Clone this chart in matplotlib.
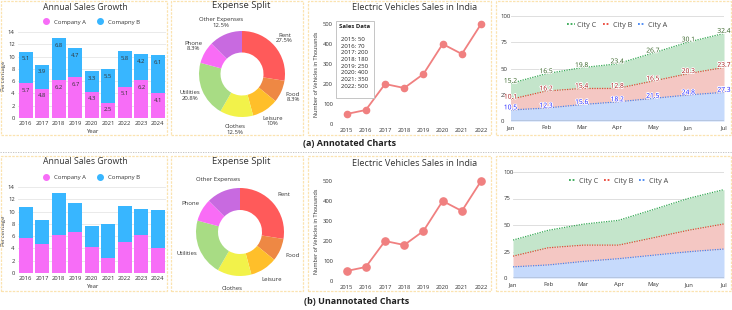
import matplotlib
matplotlib.use("Agg")
import matplotlib.pyplot as plt
from matplotlib.patches import Rectangle
from matplotlib.lines import Line2D
import matplotlib.patheffects as pe
import numpy as np

plt.rcParams['font.family'] = ['Open Sans', 'DejaVu Sans']

# ---------------- data ----------------
years_bar = ['2016', '2017', '2018', '2019', '2020', '2021', '2022', '2023', '2024']
company_a = [5.7, 4.8, 6.2, 6.7, 4.3, 2.5, 5.1, 6.2, 4.1]
company_b = [5.1, 3.9, 6.8, 4.7, 3.3, 5.5, 5.8, 4.2, 6.1]
bar_yticks = [0, 2, 4, 6, 8, 10, 12, 14]

expense_labels = ['Rent', 'Food', 'Leisure', 'Clothes', 'Utilities', 'Phone', 'Other Expenses']
expense_values = [27.5, 8.3, 10, 12.5, 20.8, 8.3, 12.5]
expense_pct = ['27.5%', '8.3%', '10%', '12.5%', '20.8%', '8.3%', '12.5%']
expense_colors = ['#ff5a5a', '#ee8844', '#ffbf2a', '#f2f24a', '#a8dc84', '#f96cf6', '#c86ae0']

ev_years = [2015, 2016, 2017, 2018, 2019, 2020, 2021, 2022]
ev_sales = [50, 70, 200, 180, 250, 400, 350, 500]
ev_yticks = [0, 100, 200, 300, 400, 500]

months = ['Jan', 'Feb', 'Mar', 'Apr', 'May', 'Jun', 'Jul']
city_a = [10.5, 12.3, 15.6, 18.2, 21.5, 24.8, 27.3]
city_b = [10.1, 16.2, 15.4, 12.8, 16.5, 20.3, 23.7]
city_c = [15.2, 16.5, 19.8, 23.4, 26.7, 30.1, 32.4]
area_yticks = [0, 25, 50, 75, 100]

W, H = 732, 310
fig = plt.figure(figsize=(W / 100, H / 100), dpi=100)
fig.patch.set_facecolor('white')


def ax_px(x0, y0, x1, y1):
    return fig.add_axes([x0 / W, 1 - y1 / H, (x1 - x0) / W, (y1 - y0) / H])


def panel(x0, y0, x1, y1):
    fig.patches.append(Rectangle((x0 / W, 1 - y1 / H), (x1 - x0) / W, (y1 - y0) / H,
                                 transform=fig.transFigure, fill=False,
                                 edgecolor='#fbe3b0', lw=0.9, ls=(0, (2, 1))))


def ftext(x, y, s, **kw):
    fig.text(x / W, 1 - y / H, s, **kw)


TXT = '#333333'

# panels
for (y0, y1) in [(1, 135), (156, 291)]:
    panel(1, y0, 167, y1)
    panel(171, y0, 303, y1)
    panel(308, y0, 491, y1)
    panel(496, y0, 731, y1)

# separator
fig.add_artist(Line2D([0, 1], [1 - 152 / H, 1 - 152 / H], transform=fig.transFigure,
                      color='#bbbbbb', lw=0.6, ls=(0, (1.5, 1.5))))

ftext(350, 143, '(a) Annotated Charts', ha='center', va='center', fontsize=6.5,
      fontweight='bold', color='#222222')
ftext(357, 301, '(b) Unannotated Charts', ha='center', va='center', fontsize=6.5,
      fontweight='bold', color='#222222')


# ---------------- bar charts ----------------
def bar_chart(top, bottom, title_y, legend_y, annotate):
    ax = ax_px(17.5, top, 166, bottom)
    x = np.arange(len(years_bar))
    ba = ax.bar(x, company_a, width=0.84, color='#f76df7', label='Company A', zorder=3)
    bb = ax.bar(x, company_b, width=0.84, bottom=company_a, color='#38b6ff',
                label='Comapny B', zorder=3)
    ax.set_xlim(-0.5, len(years_bar) - 0.5)
    ax.set_ylim(0, 14)
    ax.set_yticks(bar_yticks)
    ax.set_xticks(x)
    ax.set_xticklabels(years_bar)
    ax.tick_params(length=0, labelsize=4.2, colors=TXT, pad=2)
    ax.grid(axis='y', color='#e6e6e6', lw=0.6, zorder=0)
    for s in ax.spines.values():
        s.set_visible(False)
    ax.set_ylabel('Percentage', fontsize=4.3, color=TXT, labelpad=2)
    ax.set_xlabel('Year', fontsize=4.3, color=TXT, labelpad=2)
    if annotate:
        ax.bar_label(ba, labels=[f'{v}' for v in company_a], padding=-7, fontsize=4.2, color=TXT)
        ax.bar_label(bb, labels=[f'{v}' for v in company_b], padding=-7, fontsize=4.2, color=TXT)
    ftext(85, title_y, 'Annual Sales Growth', ha='center', va='center', fontsize=6.3, color=TXT)
    h = [Line2D([], [], marker='o', ls='', color='#f76df7', ms=4),
         Line2D([], [], marker='o', ls='', color='#38b6ff', ms=4)]
    fig.legend(h, ['Company A', 'Comapny B'], loc='center',
               bbox_to_anchor=(90 / W, 1 - legend_y / H), ncol=2, frameon=False,
               fontsize=4.3, handletextpad=0.2, columnspacing=1.5, labelcolor=TXT)


bar_chart(32, 118, 7, 22, True)
bar_chart(187, 273, 162, 177, False)


# ---------------- donut charts ----------------
def donut(cx, cy, r, title_y, annotate):
    ax = ax_px(cx - r, cy - r, cx + r, cy + r)
    labels = [f'{l}\n{p}' for l, p in zip(expense_labels, expense_pct)] if annotate else expense_labels
    wedges, texts = ax.pie(expense_values, colors=expense_colors, startangle=90,
                           counterclock=False, labels=labels, labeldistance=1.3,
                           radius=1, wedgeprops=dict(width=0.5, edgecolor='none'),
                           textprops=dict(fontsize=4.3, color=TXT))
    for t in texts:
        t.set_ha('center')
        t.set_va('center')
        t.set_linespacing(1.1)
    ax.set_aspect('equal')
    ax.set_xlim(-1, 1)
    ax.set_ylim(-1, 1)
    ftext(241, title_y, 'Expense Split', ha='center', va='center', fontsize=6.8, color=TXT)


donut(242, 74, 43, 6, True)
donut(240, 232, 44, 162, False)


# ---------------- line charts ----------------
def line_chart(top, bottom, title_y, annotate, ms):
    ax = ax_px(337, top, 483, bottom)
    ax.plot(ev_years, ev_sales, color='#f08080', lw=1.3, marker='o', ms=ms, zorder=3,
            clip_on=False)
    ax.set_xlim(2014.5, 2022.1)
    ax.set_ylim(0, 500)
    ax.set_yticks(ev_yticks)
    ax.set_xticks(ev_years)
    ax.tick_params(length=0, labelsize=4.2, colors=TXT, pad=3)
    for s in ax.spines.values():
        s.set_visible(False)
    ax.set_ylabel('Number of Vehicles in Thousands', fontsize=4.0, color=TXT, labelpad=3)
    ftext(415, title_y, 'Electric Vehicles Sales in India', ha='center', va='center',
          fontsize=6.6, color=TXT)
    if annotate:
        ax.add_patch(Rectangle((-0.005, 0.26), 0.255, 0.77, transform=ax.transAxes,
                               fc='white', ec='#bbbbbb', lw=0.6, zorder=5, clip_on=False))
        lines = '\n'.join(f'{y}: {v}' for y, v in zip(ev_years, ev_sales))
        ax.text(0.015, 0.995, 'Sales Data', transform=ax.transAxes, fontsize=4.3,
                fontweight='bold', va='top', ha='left', color='#222222', zorder=6)
        ax.text(0.025, 0.87, lines, transform=ax.transAxes, fontsize=4.3, va='top',
                ha='left', color='#222222', linespacing=1.42, zorder=6)


line_chart(24, 124, 8, True, 4.5)
line_chart(181, 281, 164, False, 5.2)


# ---------------- stacked area charts ----------------
def area_chart(top, bottom, x0, legend_y, annotate):
    ax = ax_px(x0, top, 724, bottom)
    x = np.arange(len(months))
    a = np.array(city_a)
    ab = a + np.array(city_b)
    abc = ab + np.array(city_c)
    ax.fill_between(x, 0, a, color='#c6dafc', lw=0, zorder=2)
    ax.fill_between(x, a, ab, color='#f4c7c3', lw=0, zorder=2)
    ax.fill_between(x, ab, abc, color='#c4e5cb', lw=0, zorder=2)
    lc, = ax.plot(x, abc, color='#34a853', ls=(0, (1, 1)), lw=0.9, zorder=3, label='City C')
    lb, = ax.plot(x, ab, color='#ea4335', ls=(0, (1, 1)), lw=0.9, zorder=3, label='City B')
    la, = ax.plot(x, a, color='#4285f4', ls=(0, (1, 1)), lw=0.9, zorder=3, label='City A')
    ax.set_xlim(0, len(months) - 1)
    ax.set_ylim(0, 100)
    ax.set_yticks(area_yticks)
    ax.set_xticks(x)
    ax.set_xticklabels(months)
    ax.tick_params(length=0, labelsize=4.3, colors=TXT, pad=3)
    ax.grid(axis='y', color='#d9d9d9', lw=0.6, zorder=1)
    for s in ax.spines.values():
        s.set_visible(False)
    ax.axhline(0, color='#777777', lw=1.0, zorder=4)
    for lab in ax.get_yticklabels():
        lab.set_ha('left')
    ax.tick_params(axis='y', pad=7)
    leg = ax.legend(handles=[lc, lb, la], loc='center',
                    bbox_to_anchor=(0.5, (bottom - legend_y) / (bottom - top)),
                    ncol=3, frameon=False, fontsize=5.2, handlelength=1.0,
                    handletextpad=0.4, columnspacing=0.8, labelcolor='#444444')
    for lh in leg.get_lines():
        lh.set_linewidth(1.3)
    if annotate:
        eff = [pe.withStroke(linewidth=1.2, foreground='white')]
        for xi in x:
            ax.text(xi, abc[xi] + 2, f'{city_c[xi]}', ha='center', va='center',
                    fontsize=4.8, color='#2e5d1e', zorder=6, path_effects=eff, clip_on=False)
            ax.text(xi, ab[xi] + 2, f'{city_b[xi]}', ha='center', va='center',
                    fontsize=4.8, color='#a31515', zorder=6, path_effects=eff, clip_on=False)
            ax.text(xi, a[xi] + 2, f'{city_a[xi]}', ha='center', va='center',
                    fontsize=4.8, color='#1a1aff', zorder=6, path_effects=eff, clip_on=False)


area_chart(16, 121, 510.5, 25, True)
area_chart(172, 278, 513, 181, False)

fig.savefig('out.png', dpi=100, facecolor='white')
